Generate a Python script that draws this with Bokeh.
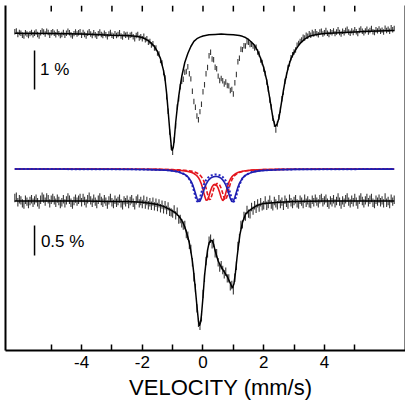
import numpy as np
from bokeh.plotting import figure
from bokeh.models import Range1d, LinearAxis, FixedTicker
from bokeh.core.properties import value
from bokeh.embed import file_html
from bokeh.resources import INLINE

# ---------------- data (absorption in %, positive = dip) ----------------
vel_start = -6.20   # mm/s, first channel
vel_step = 0.05     # mm/s per channel

top_data = [
    0.03, 0.01, 0.10, 0.05, 0.07, 0.12, 0.14, 0.06, 0.09, 0.13, 0.08, 0.05, 0.11, 0.07, 0.04, 0.10,
    0.14, 0.06, 0.01, 0.04, 0.09, 0.02, 0.05, 0.12, 0.06, 0.03, 0.07, 0.11, 0.04, 0.08, 0.13, 0.10,
    0.05, 0.12, 0.07, 0.02, 0.06, 0.11, 0.14, 0.08, 0.04, 0.09, 0.06, 0.03,
    0.12, 0.05, 0.10, 0.14, 0.07, 0.03, 0.09, 0.13, 0.06, 0.11, 0.15, 0.08, 0.04, 0.10, 0.13, 0.07,
    0.11, 0.16, 0.09, 0.05, 0.12, 0.15, 0.08, 0.13, 0.10, 0.06, 0.14, 0.17, 0.09, 0.12,
    0.10, 0.17, 0.12, 0.10, 0.16, 0.21, 0.13, 0.10, 0.19, 0.16, 0.21, 0.15, 0.24, 0.21, 0.30, 0.28,
    0.37, 0.34, 0.45, 0.45,
    0.58, 0.60, 0.77, 0.83, 1.08, 1.22, 1.70, 2.07, 2.60, 2.99, 3.12, 2.81, 2.44, 1.96, 1.75, 1.44, 1.30,
    1.25, 1.07, 1.05, 0.93, 1.11, 1.24, 1.56, 1.82, 1.97, 2.19, 2.29, 2.08, 1.89, 1.57, 1.39, 1.11,
    0.95, 0.65, 0.56, 0.73, 0.75, 0.94, 0.98, 1.17, 1.28, 1.23, 1.29, 1.37, 1.32, 1.41, 1.42, 1.54,
    1.51, 1.63, 1.34, 1.13, 0.80, 0.71, 0.48, 0.49, 0.39, 0.40, 0.29, 0.30, 0.36, 0.35,
    0.40, 0.45, 0.43, 0.55, 0.60, 0.76, 0.82, 0.99, 1.10, 1.32, 1.50, 1.78, 1.96, 2.25, 2.40, 2.55,
    2.40, 2.22, 2.04, 1.75, 1.58, 1.30, 1.15, 0.95, 0.85, 0.70, 0.62, 0.55, 0.50, 0.38, 0.33, 0.28,
    0.24, 0.17, 0.19, 0.12, 0.15, 0.08,
    0.12, 0.05, 0.09, 0.03, 0.08, 0.11, 0.04, 0.02, 0.09, 0.06,
    0.00, 0.07, 0.10, 0.03, 0.06, 0.01, 0.08, 0.04, -0.02, 0.05,
    0.09, 0.02, 0.06, 0.00, -0.03, 0.04, 0.07, 0.01, 0.05, -0.02,
    0.03, 0.08, 0.00, -0.04, 0.02, 0.06, 0.01, -0.03, 0.04, 0.00,
    -0.05, 0.03, 0.05, -0.02, 0.01, -0.04, 0.02, -0.01, 0.04, -0.06,
    0.00, -0.03, 0.02, -0.07, -0.02, -0.05,
]

bottom_data = [
    -0.05, -0.07, 0.02, -0.03, -0.01, 0.04, 0.06, -0.02, 0.01, 0.05, 0.00, -0.03, 0.03, -0.01, -0.04, 0.02,
    0.06, -0.02, -0.07, -0.04, 0.01, -0.06, -0.03, 0.04, -0.02, -0.05, -0.01, 0.03, -0.04, 0.00, 0.05, 0.02,
    -0.03, 0.04, -0.01, -0.06, -0.02, 0.03, 0.06, 0.00, -0.04, 0.01, -0.02, -0.05,
    0.02, -0.05, 0.00, 0.04, -0.03, -0.07, -0.01, 0.03, -0.04, 0.01,
    0.05, -0.02, -0.06, 0.00, 0.03, -0.03, 0.01, 0.06, -0.01, -0.05,
    0.02, 0.05, -0.02, 0.03, 0.00, -0.04, 0.04, 0.07, -0.01, 0.02,
    -0.02, 0.05, 0.00, -0.03, 0.03, 0.07, -0.01, -0.04, 0.04, 0.00, 0.05, -0.02, 0.06, 0.00, 0.07, 0.02,
    0.08, 0.01, 0.09, 0.03,
    0.10, 0.04, 0.12, 0.06, 0.14, 0.07, 0.15, 0.09, 0.18, 0.19, 0.21, 0.14, 0.24, 0.18, 0.31, 0.30, 0.37,
    0.41, 0.40, 0.55, 0.58, 0.73, 0.80, 1.02, 1.27, 1.45, 1.79, 2.03, 2.08, 1.94, 1.55, 1.28, 1.00,
    0.87, 0.66, 0.63, 0.72, 0.70, 0.87, 0.87, 1.02, 1.11, 1.07, 1.15, 1.22, 1.18, 1.29, 1.29, 1.42,
    1.40, 1.49, 1.28, 1.08, 0.75, 0.62, 0.40, 0.39, 0.25, 0.26, 0.15, 0.21, 0.22, 0.10,
    0.16, 0.07, 0.13, 0.04, 0.11, 0.02, 0.09, 0.07, -0.01, 0.08, 0.05, -0.02, 0.06, 0.09, 0.00, 0.04,
    0.07, -0.03, 0.05, 0.01, 0.08, -0.02, 0.03, 0.06, -0.04, 0.02, 0.05, 0.00, -0.03, 0.04, 0.06, -0.02,
    0.01, 0.05, -0.04, 0.03, -0.01, 0.04,
    0.05, -0.02, 0.02, -0.04, 0.01, 0.04, -0.03, -0.05, 0.02, -0.01,
    -0.04, 0.03, 0.06, -0.01, 0.02, -0.03, 0.04, 0.00, -0.06, 0.01,
    0.06, -0.01, 0.03, -0.03, -0.06, 0.01, 0.04, -0.02, 0.02, -0.05,
    0.01, 0.06, -0.02, -0.06, 0.00, 0.04, -0.01, -0.05, 0.02, -0.02,
    -0.05, 0.03, 0.05, -0.02, 0.01, -0.04, 0.02, -0.01, 0.04, -0.06,
    0.03, 0.00, 0.05, -0.04, 0.01, -0.02,
]
data_err = 0.07  # % (error-bar half length)

top_fit_v = [-6.2, -5.0, -4.0, -3.0, -2.5, -2.2, -2.0, -1.8, -1.7, -1.6, -1.5, -1.4, -1.3, -1.25, -1.2,
             -1.15, -1.1, -1.05, -1.02, -0.98, -0.95, -0.9, -0.85, -0.8, -0.75, -0.7, -0.6, -0.5, -0.4, -0.3,
             -0.2, -0.1, 0.0, 0.2, 0.4, 0.6, 0.8, 1.0, 1.2, 1.3, 1.4, 1.5, 1.6, 1.7, 1.8,
             1.9, 2.0, 2.1, 2.2, 2.3, 2.38, 2.45, 2.5, 2.55, 2.6, 2.65, 2.7, 2.8, 2.9, 3.0,
             3.1, 3.2, 3.35, 3.5, 3.75, 4.0, 4.5, 5.0, 5.5, 6.3]
top_fit = [0.07, 0.08, 0.09, 0.12, 0.13, 0.15, 0.18, 0.26, 0.33, 0.41, 0.54, 0.72, 1.03, 1.25, 1.60,
           2.05, 2.52, 2.92, 3.08, 3.00, 2.82, 2.36, 2.00, 1.69, 1.42, 1.18, 0.82, 0.59, 0.41, 0.28,
           0.21, 0.17, 0.14, 0.11, 0.10, 0.09, 0.10, 0.11, 0.13, 0.15, 0.18, 0.23, 0.30, 0.38, 0.52,
           0.72, 0.95, 1.28, 1.74, 2.23, 2.47, 2.38, 2.25, 2.02, 1.78, 1.54, 1.32, 0.97, 0.72, 0.56,
           0.44, 0.33, 0.22, 0.15, 0.10, 0.08, 0.06, 0.04, 0.02, 0.00]

bottom_fit_v = [-6.2, -4.0, -3.0, -2.5, -2.0, -1.7, -1.5, -1.3, -1.1, -1.0, -0.9, -0.8, -0.7, -0.6, -0.5,
                -0.45, -0.4, -0.35, -0.3, -0.25, -0.2, -0.15, -0.12, -0.08, -0.05, 0.0, 0.05, 0.1, 0.15, 0.2,
                0.25, 0.3, 0.35, 0.4, 0.5, 0.6, 0.7, 0.8, 0.9, 0.97, 1.02, 1.07, 1.12, 1.17, 1.22,
                1.3, 1.4, 1.5, 1.6, 1.8, 2.0, 2.5, 3.0, 4.0, 5.0, 6.3]
bottom_fit = [0.0, 0.0, 0.01, 0.01, 0.02, 0.04, 0.06, 0.09, 0.14, 0.17, 0.20, 0.25, 0.32, 0.43, 0.60,
              0.70, 0.84, 1.00, 1.22, 1.48, 1.75, 2.00, 2.08, 2.02, 1.90, 1.60, 1.25, 1.02, 0.82, 0.70,
              0.66, 0.66, 0.72, 0.83, 1.00, 1.10, 1.18, 1.26, 1.37, 1.45, 1.38, 1.19, 0.95, 0.74, 0.55,
              0.36, 0.22, 0.17, 0.13, 0.07, 0.04, 0.02, 0.01, 0.0, 0.0, 0.0]

comp_v = [-6.2, -3.0, -2.0, -1.5, -1.2, -1.0, -0.8, -0.6, -0.5, -0.4, -0.35, -0.3, -0.25, -0.2, -0.15,
          -0.1, -0.05, 0.0, 0.05, 0.1, 0.15, 0.2, 0.25, 0.3, 0.35, 0.4, 0.45, 0.5, 0.55, 0.6,
          0.65, 0.7, 0.75, 0.8, 0.85, 0.9, 0.95, 1.0, 1.05, 1.1, 1.15, 1.2, 1.3, 1.4, 1.6,
          1.8, 2.0, 2.5, 3.0, 4.0, 6.3]
blue_solid = [0.001, 0.004, 0.008, 0.015, 0.022, 0.032, 0.050, 0.090, 0.130, 0.199, 0.252, 0.321, 0.404, 0.487, 0.541,
              0.536, 0.477, 0.395, 0.317, 0.255, 0.209, 0.176, 0.153, 0.137, 0.128, 0.124, 0.124, 0.130, 0.140, 0.157,
              0.182, 0.217, 0.266, 0.331, 0.411, 0.491, 0.543, 0.534, 0.472, 0.387, 0.306, 0.240, 0.152, 0.103, 0.056,
              0.035, 0.024, 0.012, 0.007, 0.004, 0.002]
blue_dotted = [0.001, 0.003, 0.007, 0.012, 0.019, 0.028, 0.046, 0.087, 0.132, 0.214, 0.279, 0.365, 0.462, 0.537, 0.547,
               0.483, 0.388, 0.303, 0.235, 0.186, 0.153, 0.128, 0.113, 0.102, 0.095, 0.092, 0.093, 0.096, 0.104, 0.115,
               0.133, 0.158, 0.196, 0.246, 0.317, 0.409, 0.501, 0.550, 0.527, 0.443, 0.346, 0.264, 0.158, 0.102, 0.051,
               0.031, 0.021, 0.010, 0.006, 0.003, 0.001]
red_solid = [0.001, 0.002, 0.005, 0.007, 0.011, 0.014, 0.020, 0.031, 0.040, 0.053, 0.063, 0.075, 0.092, 0.114, 0.145,
             0.191, 0.254, 0.341, 0.443, 0.519, 0.517, 0.445, 0.360, 0.297, 0.263, 0.256, 0.273, 0.319, 0.393, 0.479,
             0.529, 0.496, 0.402, 0.303, 0.226, 0.171, 0.132, 0.105, 0.085, 0.070, 0.059, 0.050, 0.038, 0.029, 0.019,
             0.014, 0.010, 0.006, 0.004, 0.002, 0.001]
red_dashed = [0.000, 0.002, 0.004, 0.006, 0.008, 0.011, 0.015, 0.022, 0.027, 0.035, 0.040, 0.047, 0.055, 0.066, 0.081,
              0.102, 0.130, 0.171, 0.232, 0.318, 0.422, 0.506, 0.503, 0.425, 0.336, 0.275, 0.244, 0.242, 0.267, 0.322,
              0.405, 0.491, 0.514, 0.444, 0.338, 0.246, 0.182, 0.137, 0.106, 0.085, 0.069, 0.057, 0.041, 0.032, 0.020,
              0.014, 0.010, 0.006, 0.004, 0.002, 0.000]

x_major_ticks = [-4, -2, 0, 2, 4]
x_minor_ticks = [-5, -3, -1, 1, 3, 5]
x_tick_labels = {-4: "-4", -2: "-2", 0: "0", 2: "2", 4: "4"}
scale_labels = ["1 %", "0.5 %"]
scale_pcts = [1.0, 0.5]
x_title = "VELOCITY (mm/s)"

# ---------------- layout (plot units: 1 unit = 1 screen px of the frame) ----------------
TOP_BASE, TOP_K = 320.0, 39.0     # top spectrum baseline and px per %
BOT_BASE, BOT_K = 149.5, 60.0     # bottom spectrum
CMP_BASE, CMP_K = 181.5, 60.0     # sub-spectra
Y_MIN, Y_MAX = 0.0, 345.0
TICK_LEN = 6.0
FONT = "Liberation Sans"
TITLE_PAD = "\u00a0" * 5          # nudges the centred title to the right, as in the original

vel = vel_start + vel_step * np.arange(len(top_data))
top_y = TOP_BASE - TOP_K * np.array(top_data)
bot_y = BOT_BASE - BOT_K * np.array(bottom_data)

p = figure(frame_width=400, frame_height=int(Y_MAX - Y_MIN),
           x_range=Range1d(-6.507, 6.672), y_range=Range1d(Y_MIN, Y_MAX),
           toolbar_location=None, output_backend="svg",
           min_border=0, min_border_left=5, min_border_right=0,
           min_border_top=5, min_border_bottom=0)
p.outline_line_color = None
p.grid.visible = False
p.background_fill_color = "white"
p.border_fill_color = "white"

def blank_axis(ax):
    ax.ticker = FixedTicker(ticks=[])
    ax.major_label_standoff = 0
    ax.major_tick_out = 0
    ax.major_tick_in = 0
    ax.minor_tick_out = 0
    ax.minor_tick_in = 0
    ax.axis_line_width = 2
    ax.axis_line_color = "black"

blank_axis(p.yaxis[0])
ra = LinearAxis()
blank_axis(ra)
p.add_layout(ra, "right")

xa = p.xaxis[0]
xa.ticker = FixedTicker(ticks=x_major_ticks, minor_ticks=x_minor_ticks)
xa.major_label_overrides = x_tick_labels
xa.major_tick_in = 6
xa.major_tick_out = 0
xa.minor_tick_in = 6
xa.minor_tick_out = 0
xa.major_tick_line_width = 1.5
xa.minor_tick_line_width = 1.5
xa.axis_line_width = 2
xa.major_label_text_font = FONT
xa.major_label_text_font_size = "17px"
xa.major_label_text_color = "black"
xa.major_label_standoff = 5
xa.axis_label = TITLE_PAD + x_title
xa.axis_label_text_font = FONT
xa.axis_label_text_font_size = "22px"
xa.axis_label_text_font_style = "normal"
xa.axis_label_text_color = "black"
xa.axis_label_standoff = 4

# inward tick marks along the top edge of the frame
top_tick_x = x_major_ticks + x_minor_ticks
p.segment(top_tick_x, [Y_MAX] * len(top_tick_x), top_tick_x, [Y_MAX - TICK_LEN] * len(top_tick_x),
          line_color="black", line_width=1.5)

# sub-spectra
p.line(comp_v, CMP_BASE - CMP_K * np.array(red_solid), line_color="#e3161e", line_width=1.6)
p.line(comp_v, CMP_BASE - CMP_K * np.array(red_dashed), line_color="#e3161e", line_width=1.6, line_dash="4 2")
p.line(comp_v, CMP_BASE - CMP_K * np.array(blue_dotted), line_color="#2626c0", line_width=2, line_dash="2 2")
p.line(comp_v, CMP_BASE - CMP_K * np.array(blue_solid), line_color="#1e1eb0", line_width=1.6)

# data with error bars
p.segment(vel, top_y - TOP_K * data_err, vel, top_y + TOP_K * data_err, line_color="#383838", line_width=1.1)
p.segment(vel, bot_y - BOT_K * data_err, vel, bot_y + BOT_K * data_err, line_color="#383838", line_width=1.1)

# fits
p.line(top_fit_v, TOP_BASE - TOP_K * np.array(top_fit), line_color="black", line_width=1.5)
p.line(bottom_fit_v, BOT_BASE - BOT_K * np.array(bottom_fit), line_color="black", line_width=1.5)

# scale bars
bar_x = -5.55
bar_tops = [300.0, 125.0]
bar_ks = [TOP_K, BOT_K]
p.segment([bar_x, bar_x], bar_tops, [bar_x, bar_x],
          [t - k * s for t, k, s in zip(bar_tops, bar_ks, scale_pcts)],
          line_color="black", line_width=1.5)
p.text(x=[-5.37, -5.34], y=[281, 109], text=scale_labels,
       text_font=value(FONT), text_font_size="17px", text_baseline="middle",
       text_align="left", text_color="black")

open("out.html", "w").write(file_html(p, INLINE))
